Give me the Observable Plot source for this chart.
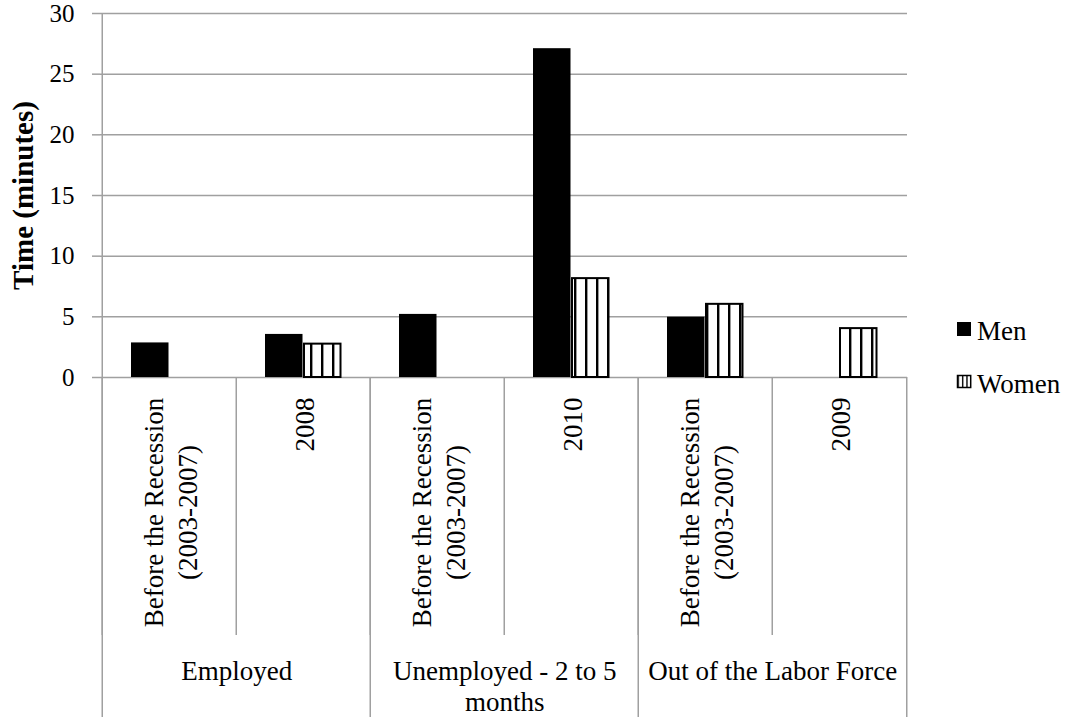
<!DOCTYPE html>
<html><head><meta charset="utf-8">
<script src="https://cdn.jsdelivr.net/npm/d3@7"></script>
<script src="https://cdn.jsdelivr.net/npm/@observablehq/plot@0.6"></script>
<style>
body{margin:0;background:#fff}
#chart{position:relative;width:1073px;height:717px;background:#fff}
#chart svg{font-family:"Liberation Serif",serif;overflow:visible}
</style>
</head><body><div id="chart"></div>
<script>
// ---- data ----
const groups = ["Employed", "Unemployed - 2 to 5\nmonths", "Out of the Labor Force"];
const periods = ["Before the Recession\n(2003-2007)", "2008", "Before the Recession\n(2003-2007)", "2010", "Before the Recession\n(2003-2007)", "2009"];
const periodGroup = [0, 0, 1, 1, 2, 2];
const menValues = [2.85, 3.55, 5.2, 27.1, 4.97, null];
const womenValues = [null, 2.75, null, 8.15, 6.03, 4.03];
const yTicks = [0, 5, 10, 15, 20, 25, 30];
const seriesNames = ["Men", "Women"];
const yLabel = "Time (minutes)";

// ---- layout ----
const W = 1073, H = 717, mL = 100, mR = 166, mT = 13, mB = 340;
const step = (W - mL - mR) / periods.length;
const grid = "#a0a0a0";
const keys = periods.map((p, i) => "k" + i);
const rows = periods.map((p, i) => ({key: keys[i], period: p, men: menValues[i], women: womenValues[i]}));
const groupRows = groups.map((g, gi) => ({name: g, first: keys[periodGroup.indexOf(gi)]}));
const groupStarts = groupRows.map(d => d.first);

const chart = Plot.plot({
  width: W, height: H,
  marginLeft: mL, marginRight: mR, marginTop: mT, marginBottom: mB,
  style: {fontFamily: "Liberation Serif, serif", background: "#fff"},
  x: {domain: keys, padding: 0, axis: null},
  y: {domain: [0, 30], axis: null},
  marks: [
    Plot.ruleY(yTicks, {stroke: grid, strokeWidth: 1.5}),
    Plot.ruleX([keys[0]], {dx: -step / 2, stroke: grid, strokeWidth: 1.5}),
    Plot.axisX({ticks: keys, anchor: "bottom", tickSize: 258, dx: -step / 2, tickFormat: () => "", stroke: grid, strokeWidth: 1.5, label: null}),
    Plot.axisX({ticks: groupStarts, anchor: "bottom", tickSize: 340, dx: -step / 2, tickFormat: () => "", stroke: grid, strokeWidth: 1.5, label: null}),
    Plot.axisX({ticks: [keys[keys.length - 1]], anchor: "bottom", tickSize: 340, dx: step / 2, tickFormat: () => "", stroke: grid, strokeWidth: 1.5, label: null}),
    Plot.axisY({ticks: yTicks, anchor: "left", tickSize: 8, tickPadding: 18, fontSize: 25, stroke: grid, strokeWidth: 1.5, label: null, tickFormat: d => String(d)}),
    Plot.barY(rows.filter(d => d.men != null), {x: "key", y: "men", fill: "black", insetLeft: 29, insetRight: 67.5}),
    Plot.barY(rows.filter(d => d.women != null), {x: "key", y: "women", fill: "url(#vstripes)", stroke: "black", strokeWidth: 2, insetLeft: 68, insetRight: 29.5}),
    Plot.text(rows, {x: "key", text: "period", frameAnchor: "bottom", dy: 20, rotate: -90, textAnchor: "middle", lineAnchor: "middle", lineHeight: 1.26, fontSize: 27, fill: "black", ariaDescription: "periods"}),
    Plot.text(groupRows, {x: "first", text: "name", dx: step / 2, frameAnchor: "bottom", dy: 281, textAnchor: "middle", lineAnchor: "top", lineHeight: 1.14, fontSize: 27, fill: "black"}),
    Plot.text([yLabel], {text: d => d, frameAnchor: "left", dx: -76.5, rotate: -90, textAnchor: "middle", lineAnchor: "middle", fontSize: 29, fontWeight: "bold", fill: "black"})
  ]
});
document.getElementById("chart").appendChild(chart);

const svg = d3.select(chart);
// stripes patterns
const defs = svg.insert("defs", ":first-child");
const pat = defs.append("pattern").attr("id", "vstripes").attr("patternUnits", "userSpaceOnUse")
  .attr("width", 11).attr("height", 10).attr("x", 2);
pat.append("rect").attr("width", 11).attr("height", 10).attr("fill", "white");
pat.append("rect").attr("width", 2.4).attr("height", 10).attr("fill", "black");
const lpat = defs.append("pattern").attr("id", "lstripes").attr("patternUnits", "userSpaceOnUse")
  .attr("width", 4.4).attr("height", 10).attr("x", 957.5);
lpat.append("rect").attr("width", 4.4).attr("height", 10).attr("fill", "white");
lpat.append("rect").attr("width", 1.4).attr("height", 10).attr("fill", "black");

// center multi-line rotated period labels, top-anchored
svg.selectAll('g[aria-description="periods"] text').each(function () {
  const w = this.getBBox().width;
  const t = this.getAttribute("transform") || "";
  this.setAttribute("transform", `translate(0,${w / 2}) ` + t);
});

// legend
const leg = svg.append("g").attr("font-size", 27).attr("font-family", "Liberation Serif, serif").attr("text-anchor", "start");
leg.append("rect").attr("x", 957).attr("y", 322).attr("width", 14).attr("height", 14).attr("fill", "black");
leg.append("text").attr("x", 977).attr("y", 340).text(seriesNames[0]);
leg.append("rect").attr("x", 957.5).attr("y", 375.5).attr("width", 13.2).attr("height", 12)
  .attr("fill", "url(#lstripes)").attr("stroke", "black").attr("stroke-width", 1.5);
leg.append("text").attr("x", 977).attr("y", 393).text(seriesNames[1]);
</script>
</body></html>
